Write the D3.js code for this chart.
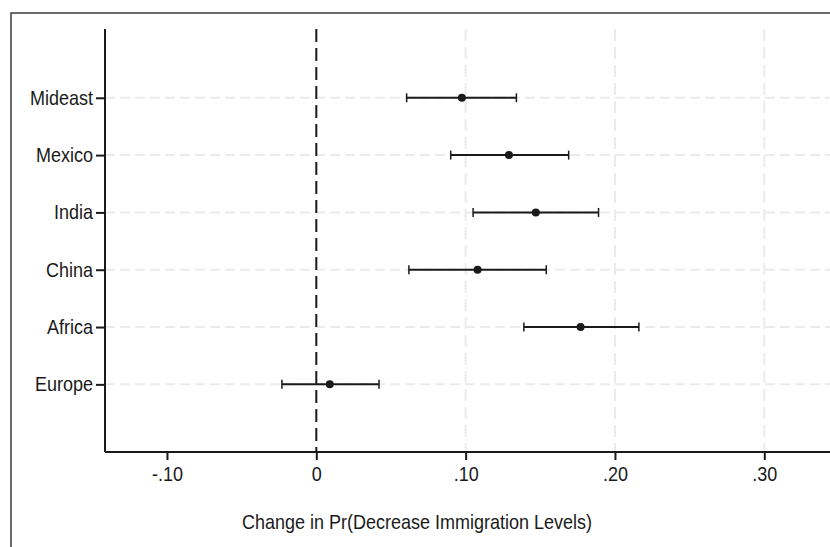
<!DOCTYPE html>
<html>
<head>
<meta charset="utf-8">
<script src="https://cdn.jsdelivr.net/npm/d3@7"></script>
<style>
  body { margin: 0; background: #fff; }
  svg text { font-family: "Liberation Sans", Arial, sans-serif; fill: #1a1a1a; }
</style>
</head>
<body>
<div id="chart"></div>
<script>
// estimates (bottom to top)
var regions = ['Europe', 'Africa', 'China', 'India', 'Mexico', 'Mideast'];
var estimate = [0.009, 0.177, 0.108, 0.147, 0.129, 0.0975];
var lower = [-0.023, 0.139, 0.062, 0.105, 0.090, 0.0605];
var upper = [0.042, 0.216, 0.154, 0.189, 0.169, 0.134];
var xTicks = [-0.1, 0, 0.1, 0.2, 0.3];
var xTickLabels = ['-.10', '0', '.10', '.20', '.30'];

var data = regions.map(function (r, i) {
    return {name: r, i: i, est: estimate[i], lo: lower[i], hi: upper[i]};
});

var width = 830, height = 547;
var plotLeft = 105, plotRight = 830, plotTop = 29, plotBottom = 452;
var squeeze = 0.9; // the original font is a narrow sans

var svg = d3.select("#chart").append("svg")
    .attr("width", width)
    .attr("height", height);

// outer frame (runs off the right and bottom edge)
svg.append("rect")
    .attr("x", 11).attr("y", 13)
    .attr("width", 840).attr("height", 600)
    .attr("fill", "none")
    .attr("stroke", "#3a3a3a")
    .attr("stroke-width", 1.5);

var x = d3.scaleLinear()
    .domain([-0.1415, 0.344])
    .range([plotLeft, plotRight]);
var y = d3.scaleLinear()
    .domain([-1.18, 6.2])
    .range([plotBottom, plotTop]);

// grid
svg.append("g").selectAll("line")
    .data(data)
    .enter().append("line")
    .attr("x1", plotLeft).attr("x2", plotRight)
    .attr("y1", d => y(d.i)).attr("y2", d => y(d.i))
    .attr("stroke", "#ebebeb")
    .attr("stroke-width", 2)
    .attr("stroke-dasharray", "10,5");
svg.append("g").selectAll("line")
    .data(xTicks.filter(t => t > 0))
    .enter().append("line")
    .attr("x1", d => x(d)).attr("x2", d => x(d))
    .attr("y1", plotTop).attr("y2", plotBottom)
    .attr("stroke", "#ebebeb")
    .attr("stroke-width", 2)
    .attr("stroke-dasharray", "12,6");

// zero reference line
svg.append("line")
    .attr("x1", x(0)).attr("x2", x(0))
    .attr("y1", plotTop).attr("y2", plotBottom)
    .attr("stroke", "#1a1a1a")
    .attr("stroke-width", 2)
    .attr("stroke-dasharray", "13,6");

// x axis
var xAxis = d3.axisBottom(x)
    .tickValues(xTicks)
    .tickFormat((d, i) => xTickLabels[i])
    .tickSize(8)
    .tickPadding(7);
var gx = svg.append("g")
    .attr("transform", "translate(0," + plotBottom + ")")
    .call(xAxis);
gx.select(".domain").attr("d", "M" + plotLeft + ",0H" + plotRight);

// y axis
var yAxis = d3.axisLeft(y)
    .tickValues(d3.range(regions.length))
    .tickFormat(i => regions[i])
    .tickSize(9)
    .tickPadding(3);
var gy = svg.append("g")
    .attr("transform", "translate(" + plotLeft + ",0)")
    .call(yAxis);
gy.select(".domain").attr("d", "M0," + plotTop + "V" + plotBottom);

[gx, gy].forEach(function (g) {
    g.selectAll(".domain, .tick line")
        .attr("stroke", "#1a1a1a")
        .attr("stroke-width", 2);
    g.selectAll("text")
        .attr("font-size", 20)
        .attr("fill", "#1a1a1a")
        .attr("transform", "scale(" + squeeze + ",1)");
});
gy.selectAll("text").attr("x", -12 / squeeze);

// axis title
svg.append("text")
    .attr("transform", "translate(417,529) scale(" + squeeze + ",1)")
    .attr("text-anchor", "middle")
    .attr("font-size", 20)
    .text("Change in Pr(Decrease Immigration Levels)");

// confidence intervals
var ci = svg.append("g").selectAll("g")
    .data(data)
    .enter().append("g");
ci.append("line")
    .attr("x1", d => x(d.lo)).attr("x2", d => x(d.hi))
    .attr("y1", d => y(d.i)).attr("y2", d => y(d.i))
    .attr("stroke", "#1a1a1a").attr("stroke-width", 2);
ci.append("line")
    .attr("x1", d => x(d.lo)).attr("x2", d => x(d.lo))
    .attr("y1", d => y(d.i) - 4.5).attr("y2", d => y(d.i) + 4.5)
    .attr("stroke", "#1a1a1a").attr("stroke-width", 1.5);
ci.append("line")
    .attr("x1", d => x(d.hi)).attr("x2", d => x(d.hi))
    .attr("y1", d => y(d.i) - 4.5).attr("y2", d => y(d.i) + 4.5)
    .attr("stroke", "#1a1a1a").attr("stroke-width", 1.5);
ci.append("circle")
    .attr("cx", d => x(d.est))
    .attr("cy", d => y(d.i))
    .attr("r", 4)
    .attr("fill", "#1a1a1a");
</script>
</body>
</html>
